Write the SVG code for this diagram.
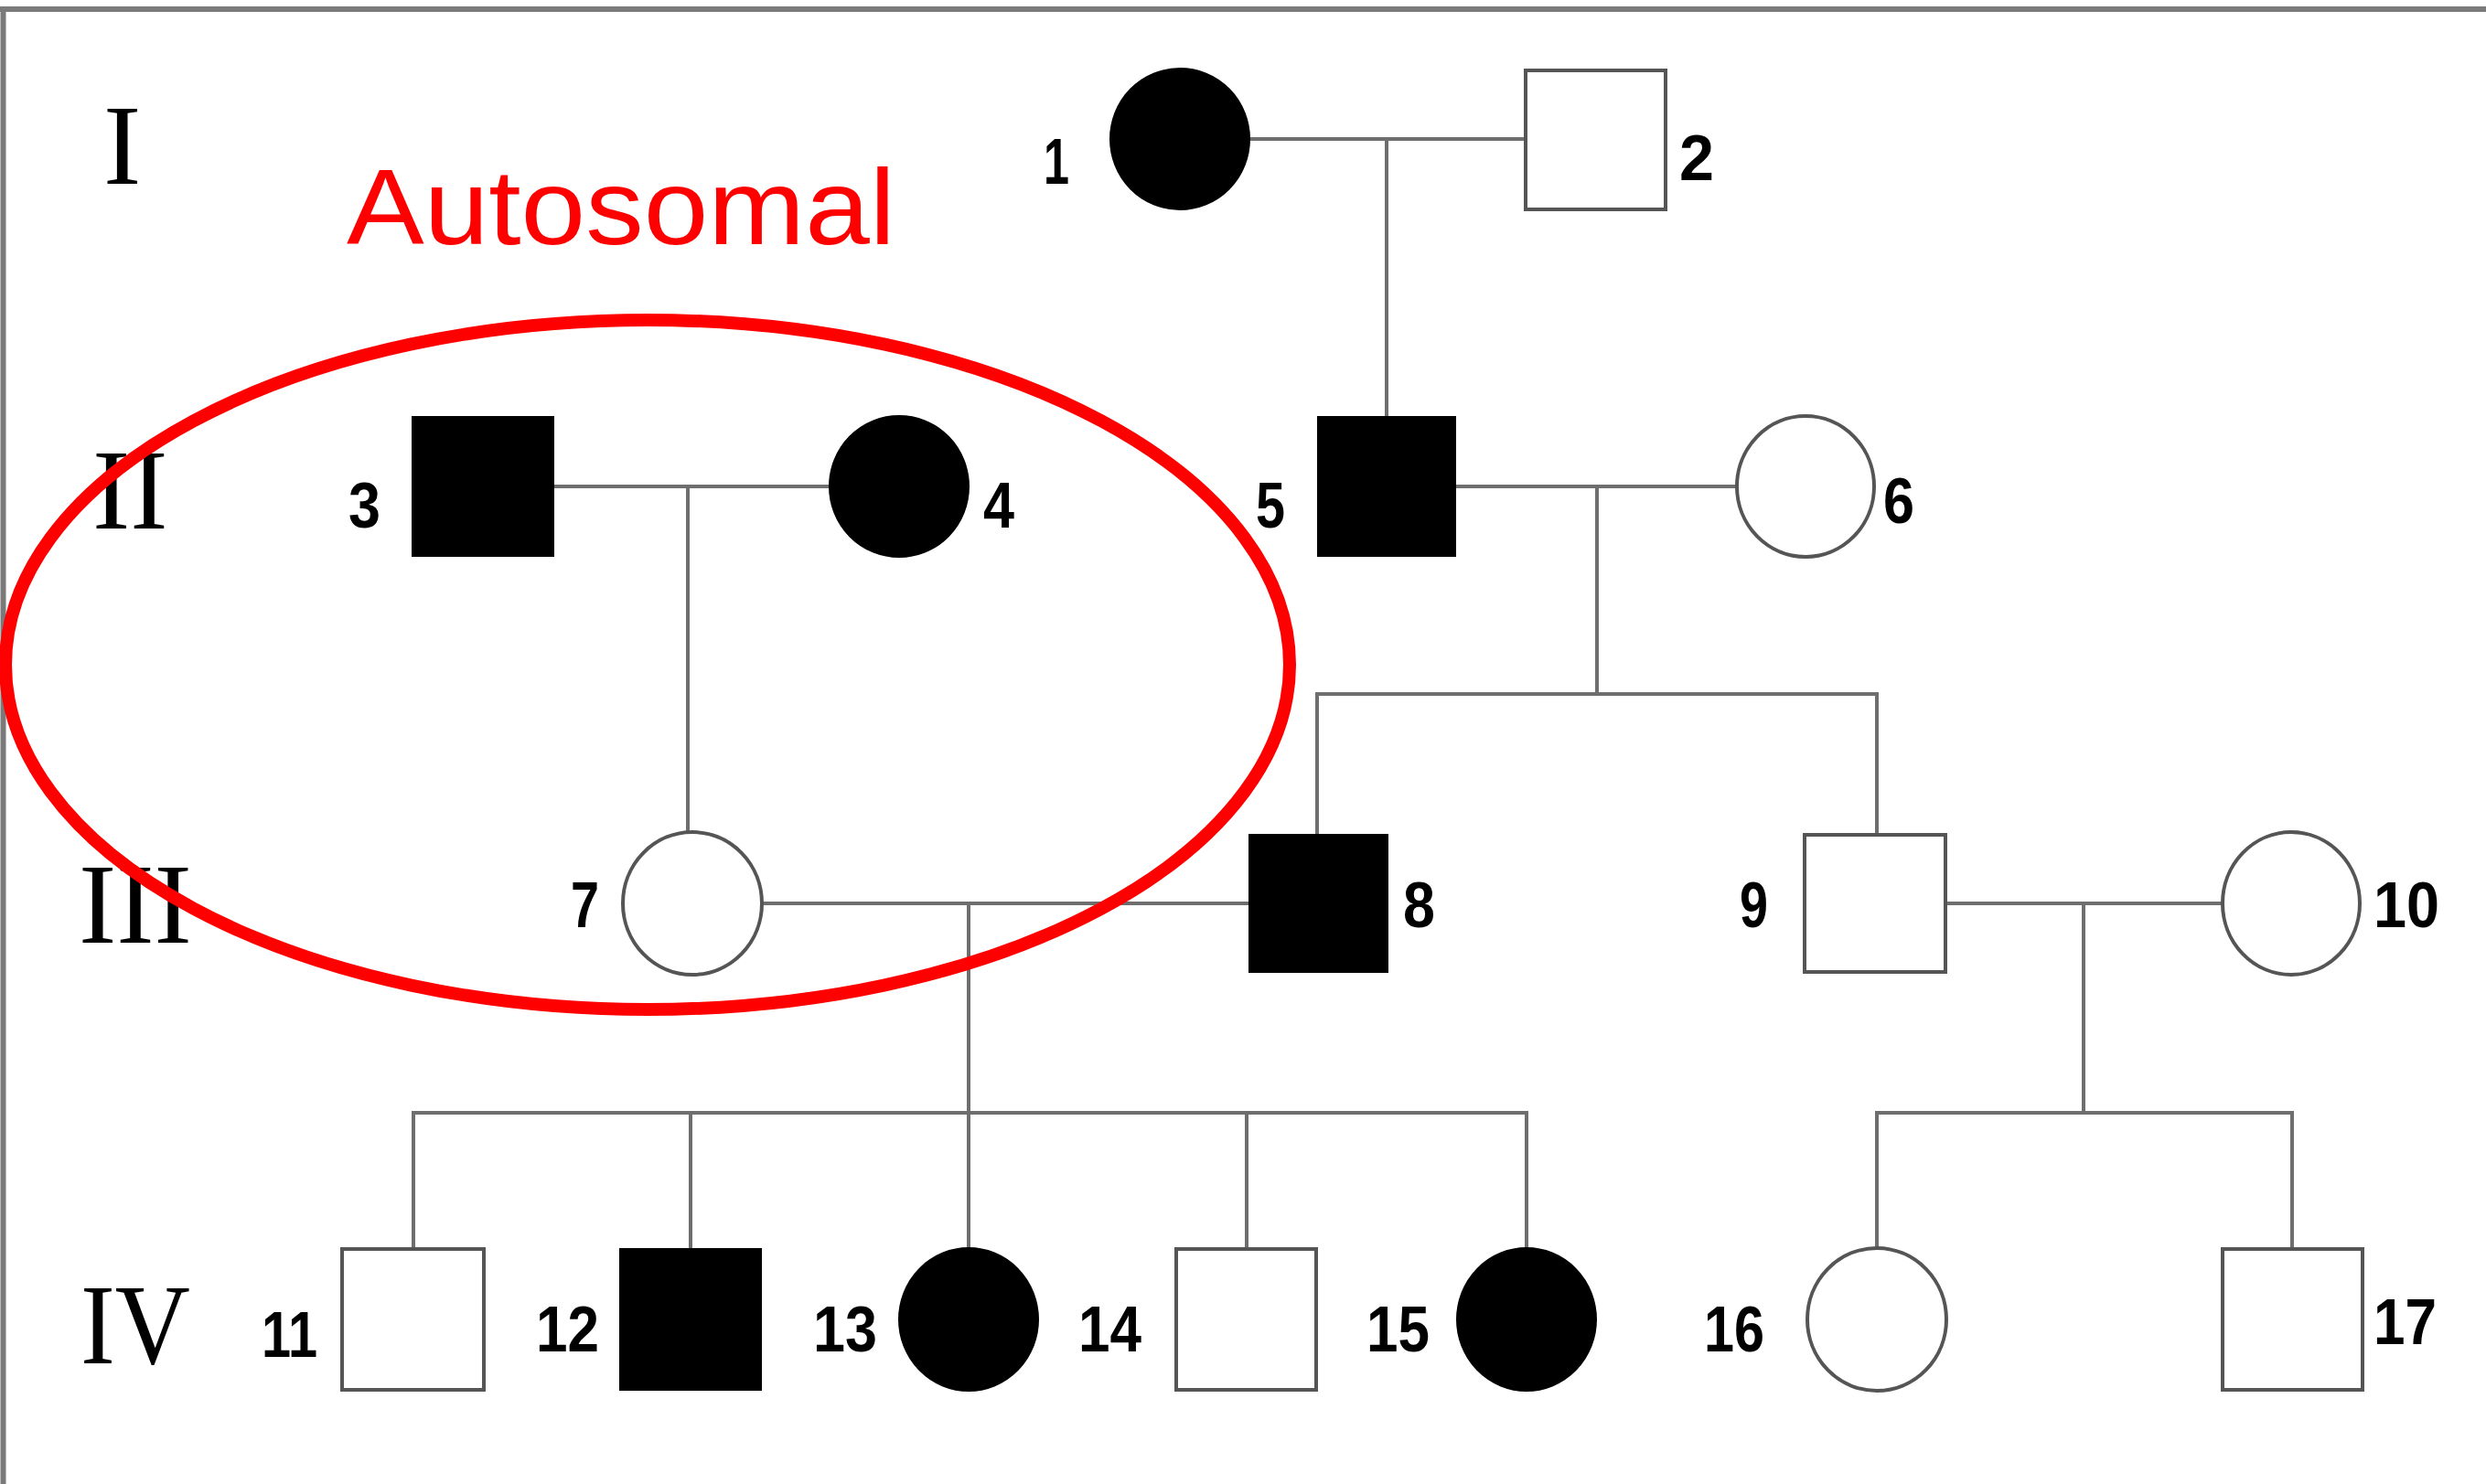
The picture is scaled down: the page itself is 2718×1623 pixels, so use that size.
<svg xmlns="http://www.w3.org/2000/svg" width="2718" height="1623" viewBox="0 0 2718 1623">
  <style>
    .frame { stroke: #7a7a7a; stroke-width: 6; fill: none; }
    .line { stroke: #6e6e6e; stroke-width: 4; fill: none; }
    .open { fill: #ffffff; stroke: #555555; stroke-width: 4; }
    .filled { fill: #000000; stroke: #000000; stroke-width: 2; }
    .num { font-family: "Liberation Sans", Arial, sans-serif; font-weight: bold; font-size: 70px; fill: #000000; }
    .gen { font-family: "Liberation Serif", "Times New Roman", serif; font-size: 124px; fill: #000000; }
    .note { font-family: "Liberation Sans", Arial, sans-serif; font-size: 117px; fill: #ff0000; }
    .ring { fill: none; stroke: #ff0000; stroke-width: 14; }
  </style>

  <rect x="0" y="0" width="2718" height="1623" fill="#ffffff"/>

  <!-- page frame -->
  <g id="frame">
    <line class="frame" x1="0" y1="10" x2="2718" y2="10"/>
    <line class="frame" x1="3.5" y1="7" x2="3.5" y2="1623"/>
  </g>

  <!-- generation numerals -->
  <g id="generations">
    <text class="gen" x="113" y="201">I</text>
    <text class="gen" x="101" y="578">II</text>
    <text class="gen" x="86" y="1031">III</text>
    <text class="gen" x="88" y="1491" textLength="120" lengthAdjust="spacingAndGlyphs">IV</text>
  </g>

  <!-- marriage, descent and sibship lines -->
  <g id="connectors">
    <!-- I-1 x I-2 -->
    <line class="line" x1="1367" y1="152" x2="1668" y2="152"/>
    <line class="line" x1="1516" y1="152" x2="1516" y2="456"/>
    <!-- II-3 x II-4 -->
    <line class="line" x1="605" y1="532" x2="906" y2="532"/>
    <line class="line" x1="752" y1="532" x2="752" y2="910"/>
    <!-- II-5 x II-6 -->
    <line class="line" x1="1591" y1="532" x2="1898" y2="532"/>
    <line class="line" x1="1746" y1="532" x2="1746" y2="759"/>
    <polyline class="line" points="1440,913 1440,759 2052,759 2052,913"/>
    <!-- III-7 x III-8 -->
    <line class="line" x1="833" y1="988" x2="1366" y2="988"/>
    <line class="line" x1="1059" y1="988" x2="1059" y2="1217"/>
    <polyline class="line" points="452,1366 452,1217 1669,1217 1669,1366"/>
    <line class="line" x1="755" y1="1217" x2="755" y2="1366"/>
    <line class="line" x1="1059" y1="1217" x2="1059" y2="1366"/>
    <line class="line" x1="1363" y1="1217" x2="1363" y2="1366"/>
    <!-- III-9 x III-10 -->
    <line class="line" x1="2127" y1="988" x2="2430" y2="988"/>
    <line class="line" x1="2278" y1="988" x2="2278" y2="1217"/>
    <polyline class="line" points="2052,1366 2052,1217 2506,1217 2506,1366"/>
  </g>

  <!-- generation I -->
  <g id="p1">
    <ellipse class="filled" cx="1290" cy="152" rx="76" ry="77"/>
    <text class="num" x="1141" y="201" textLength="28" lengthAdjust="spacingAndGlyphs">1</text>
  </g>
  <g id="p2">
    <rect class="open" x="1668" y="77" width="153" height="152"/>
    <text class="num" x="1836" y="197" textLength="38" lengthAdjust="spacingAndGlyphs">2</text>
  </g>

  <!-- generation II -->
  <g id="p3">
    <rect class="filled" x="451" y="456" width="154" height="152"/>
    <text class="num" x="381" y="577" textLength="35" lengthAdjust="spacingAndGlyphs">3</text>
  </g>
  <g id="p4">
    <ellipse class="filled" cx="983" cy="532" rx="76" ry="77"/>
    <text class="num" x="1075" y="577" textLength="34" lengthAdjust="spacingAndGlyphs">4</text>
  </g>
  <g id="p5">
    <rect class="filled" x="1441" y="456" width="150" height="152"/>
    <text class="num" x="1373" y="577" textLength="32" lengthAdjust="spacingAndGlyphs">5</text>
  </g>
  <g id="p6">
    <ellipse class="open" cx="1974" cy="532" rx="75" ry="77"/>
    <text class="num" x="2059" y="572" textLength="34" lengthAdjust="spacingAndGlyphs">6</text>
  </g>

  <!-- generation III -->
  <g id="p7">
    <ellipse class="open" cx="757" cy="988" rx="76" ry="78"/>
    <text class="num" x="624" y="1014" textLength="31" lengthAdjust="spacingAndGlyphs">7</text>
  </g>
  <g id="p8">
    <rect class="filled" x="1366" y="913" width="151" height="150"/>
    <text class="num" x="1534" y="1014" textLength="35" lengthAdjust="spacingAndGlyphs">8</text>
  </g>
  <g id="p9">
    <rect class="open" x="1973" y="913" width="154" height="150"/>
    <text class="num" x="1902" y="1014" textLength="31" lengthAdjust="spacingAndGlyphs">9</text>
  </g>
  <g id="p10">
    <ellipse class="open" cx="2505" cy="988" rx="75" ry="78"/>
    <text class="num" x="2595" y="1014" textLength="72" lengthAdjust="spacingAndGlyphs">10</text>
  </g>

  <!-- generation IV -->
  <g id="p11">
    <rect class="open" x="374" y="1366" width="155" height="154"/>
    <text class="num" x="286" y="1484" textLength="61" lengthAdjust="spacingAndGlyphs">11</text>
  </g>
  <g id="p12">
    <rect class="filled" x="678" y="1366" width="154" height="154"/>
    <text class="num" x="586" y="1478" textLength="69" lengthAdjust="spacingAndGlyphs">12</text>
  </g>
  <g id="p13">
    <ellipse class="filled" cx="1059" cy="1443" rx="76" ry="78"/>
    <text class="num" x="889" y="1478" textLength="70" lengthAdjust="spacingAndGlyphs">13</text>
  </g>
  <g id="p14">
    <rect class="open" x="1286" y="1366" width="153" height="154"/>
    <text class="num" x="1179" y="1478" textLength="69" lengthAdjust="spacingAndGlyphs">14</text>
  </g>
  <g id="p15">
    <ellipse class="filled" cx="1669" cy="1443" rx="76" ry="78"/>
    <text class="num" x="1494" y="1478" textLength="69" lengthAdjust="spacingAndGlyphs">15</text>
  </g>
  <g id="p16">
    <ellipse class="open" cx="2052" cy="1443" rx="76" ry="78"/>
    <text class="num" x="1863" y="1478" textLength="66" lengthAdjust="spacingAndGlyphs">16</text>
  </g>
  <g id="p17">
    <rect class="open" x="2430" y="1366" width="153" height="154"/>
    <text class="num" x="2595" y="1470" textLength="69" lengthAdjust="spacingAndGlyphs">17</text>
  </g>

  <!-- annotation -->
  <g id="annotation">
    <text class="note" x="379" y="267" textLength="600" lengthAdjust="spacingAndGlyphs">Autosomal</text>
    <ellipse class="ring" cx="708" cy="727" rx="702" ry="377"/>
  </g>
</svg>
